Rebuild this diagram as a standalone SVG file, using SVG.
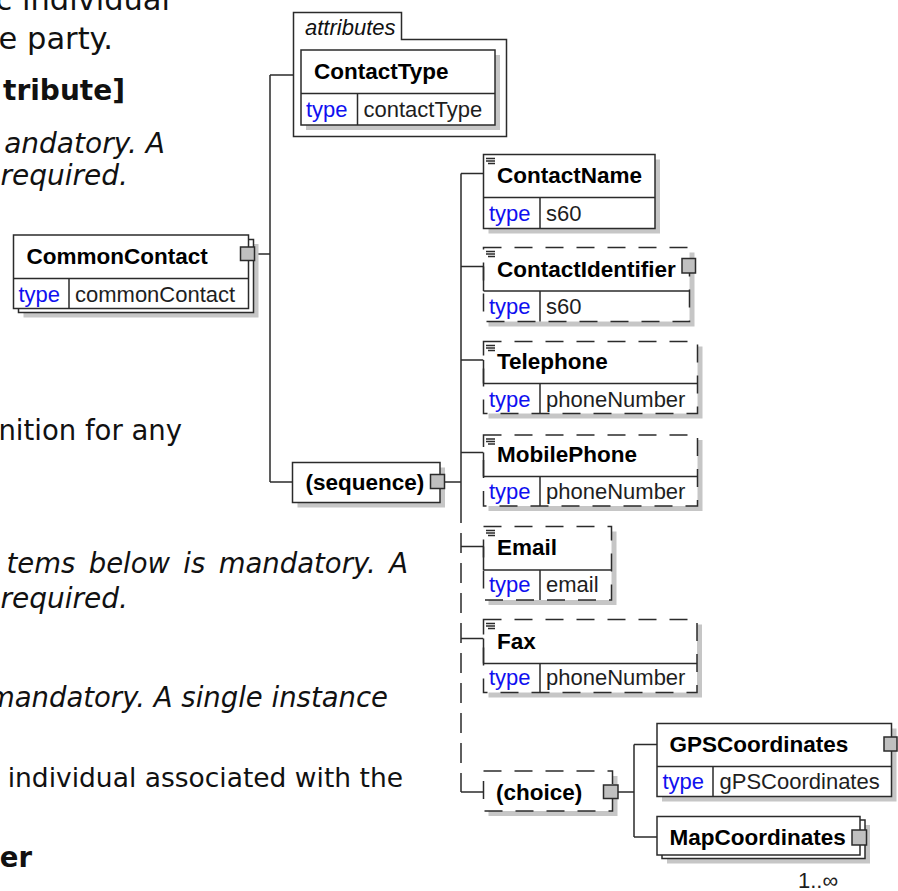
<svg xmlns="http://www.w3.org/2000/svg" width="898" height="891" viewBox="0 0 898 891">
<style>
.box{fill:#fff;stroke:#2b2b2b;stroke-width:1.5}
.dbox{fill:#fff;stroke:#2b2b2b;stroke-width:1.5;stroke-dasharray:18 13}
.sh{fill:#c6c6c6}
.ln{fill:none;stroke:#2b2b2b;stroke-width:1.5}
.dl{fill:none;stroke:#2b2b2b;stroke-width:1.5;stroke-dasharray:20 10}
.hd{fill:#c0c0c0;stroke:#2b2b2b;stroke-width:1.5}
.ic{stroke:#2b2b2b;stroke-width:1.3}
.nm{font-family:"Liberation Sans",Arial,sans-serif;font-weight:bold;font-size:22.5px;fill:#000}
.ty{font-family:"Liberation Sans",Arial,sans-serif;font-size:22px;fill:#1010f0}
.vl{font-family:"Liberation Sans",Arial,sans-serif;font-size:22px;fill:#1e1e1e}
.it{font-family:"Liberation Sans",Arial,sans-serif;font-size:22px;font-style:italic;fill:#111}
.doc{font-family:"DejaVu Sans",Verdana,sans-serif;font-size:27.5px;fill:#111;text-anchor:end}
.b{font-weight:bold}
.i{font-style:italic}
</style>
<rect width="898" height="891" fill="#fff"/>

<g id="doc-text">
<text class="doc" x="170" y="10" style="font-size:30.5px">c individual</text>
<text class="doc" x="113" y="49" style="font-size:30.5px">e party.</text>
<text class="doc b" x="125" y="100" style="font-size:28px">tribute]</text>
<text class="doc i" x="165" y="153" style="font-size:28px">andatory. A</text>
<text class="doc i" x="128" y="185" style="font-size:28px">required.</text>
<text class="doc" x="182" y="440">nition for any</text>
<text class="doc i" x="408" y="573" word-spacing="4.6">tems below is mandatory. A</text>
<text class="doc i" x="128" y="608" style="font-size:28px">required.</text>
<text class="doc i" x="388" y="707">mandatory. A single instance</text>
<text class="doc" x="403" y="787" style="font-size:26.5px">individual associated with the</text>
<text class="doc b" x="32" y="867">ier</text>
</g>

<g id="connectors">
<path class="ln" d="M270,75 H293.5 M270,75 V482 M254.5,254 H270 M270,482 H292.5"/>
<path class="ln" d="M445,482 H461 M461,173.5 V503"/>
<path class="dl" d="M461,503 V792"/>
<path class="ln" d="M461,792 H483.5"/>
<path class="ln" d="M461,173.5 H483.5 M461,266.5 H483.5 M461,360 H483.5 M461,452.5 H483.5 M461,546.5 H483.5 M461,638.5 H483.5"/>
<path class="ln" d="M618,792 H634 M634,744.5 V837 M634,744.5 H657 M634,837 H657"/>
</g>

<g id="attributes">
<path class="box" d="M293.5,12.5 H401.5 V39.5 H506.5 V136.5 H293.5 Z"/>
<text class="it" x="305" y="35">attributes</text>
</g>

<g id="ContactType">
<rect class="sh" x="306" y="55" width="194" height="75"/>
<rect class="box" x="301" y="50" width="194" height="75"/>
<path class="ln" d="M301,93.5 H495 M357.5,93.5 V125"/>
<text class="nm" x="314" y="79">ContactType</text>
<text class="ty" x="306" y="117">type</text>
<text class="vl" x="363.5" y="117">contactType</text>
</g>

<g id="CommonContact">
<rect class="sh" x="23.5" y="244" width="235" height="73.5"/>
<rect class="box" x="18.5" y="239.5" width="235" height="73"/>
<rect class="box" x="13.5" y="235" width="235" height="73.5"/>
<path class="ln" d="M13.5,278.5 H248.5 M69,278.5 V308.5"/>
<text class="nm" x="26.5" y="263.5">CommonContact</text>
<text class="ty" x="18.5" y="301.5">type</text>
<text class="vl" x="75" y="301.5">commonContact</text>
<rect class="hd" x="240.5" y="247" width="14" height="13.5"/>
</g>

<g id="sequence">
<rect class="sh" x="297.5" y="467.5" width="147.5" height="40"/>
<rect class="box" x="292.5" y="462.5" width="147.5" height="40"/>
<text class="nm" x="305.5" y="490">(sequence)</text>
<rect class="hd" x="430.5" y="474.5" width="14" height="14"/>
</g>

<g id="ContactName">
<rect class="sh" x="488.5" y="159.5" width="171.5" height="74"/>
<rect class="box" x="483.5" y="154.5" width="171.5" height="74"/>
<path class="ln" d="M483.5,197.5 H655 M540,197.5 V228.5"/>
<path class="ic" d="M486,158.5 H495 M486,161 H495 M488,163.5 H495"/>
<text class="nm" x="497" y="183">ContactName</text>
<text class="ty" x="489" y="220.5">type</text>
<text class="vl" x="546" y="220.5">s60</text>
</g>

<g id="ContactIdentifier">
<rect class="sh" x="488.5" y="252.5" width="206" height="74"/>
<rect class="dbox" x="483.5" y="247.5" width="206" height="74"/>
<path class="ln" d="M483.5,291 H689.5 M540,291 V321.5 M483.5,266.5 V291"/>
<path class="ic" d="M486,251.5 H495 M486,254 H495 M488,256.5 H495"/>
<text class="nm" x="497" y="276.5">ContactIdentifier</text>
<text class="ty" x="489" y="313.5">type</text>
<text class="vl" x="546" y="313.5">s60</text>
<rect class="hd" x="682" y="258.5" width="13.5" height="14.5"/>
</g>

<g id="Telephone">
<rect class="sh" x="488.5" y="346.5" width="214" height="72"/>
<rect class="dbox" x="483.5" y="341.5" width="214" height="72"/>
<path class="ln" d="M483.5,383.5 H697.5 M540,383.5 V413.5 M483.5,360 V383.5"/>
<path class="ic" d="M486,345.5 H495 M486,348 H495 M488,350.5 H495"/>
<text class="nm" x="497" y="368.5">Telephone</text>
<text class="ty" x="489" y="406.5">type</text>
<text class="vl" x="546" y="406.5">phoneNumber</text>
</g>

<g id="MobilePhone">
<rect class="sh" x="488.5" y="440" width="214" height="71"/>
<rect class="dbox" x="483.5" y="435" width="214" height="71"/>
<path class="ln" d="M483.5,476.5 H697.5 M540,476.5 V506 M483.5,452.5 V476.5"/>
<path class="ic" d="M486,439 H495 M486,441.5 H495 M488,444 H495"/>
<text class="nm" x="497" y="461.5">MobilePhone</text>
<text class="ty" x="489" y="498.5">type</text>
<text class="vl" x="546" y="498.5">phoneNumber</text>
</g>

<g id="Email">
<rect class="sh" x="488.5" y="531.5" width="128" height="73.5"/>
<rect class="dbox" x="483.5" y="526.5" width="128" height="73.5"/>
<path class="ln" d="M483.5,570 H611.5 M540,570 V600 M483.5,546.5 V570"/>
<path class="ic" d="M486,530.5 H495 M486,533 H495 M488,535.5 H495"/>
<text class="nm" x="497" y="555">Email</text>
<text class="ty" x="489" y="592">type</text>
<text class="vl" x="546" y="592">email</text>
</g>

<g id="Fax">
<rect class="sh" x="488.5" y="624.5" width="213.5" height="73"/>
<rect class="dbox" x="483.5" y="619.5" width="213.5" height="73"/>
<path class="ln" d="M483.5,663.5 H697 M540,663.5 V692.5 M483.5,638.5 V663.5"/>
<path class="ic" d="M486,623.5 H495 M486,626 H495 M488,628.5 H495"/>
<text class="nm" x="497" y="648.5">Fax</text>
<text class="ty" x="489" y="685">type</text>
<text class="vl" x="546" y="685">phoneNumber</text>
</g>

<g id="choice">
<rect class="sh" x="488.5" y="776" width="129" height="40"/>
<rect class="dbox" x="483.5" y="771" width="129" height="40"/>
<text class="nm" x="496" y="800">(choice)</text>
<rect class="hd" x="603.5" y="785" width="14.5" height="13.5"/>
</g>

<g id="GPSCoordinates">
<rect class="sh" x="662" y="728.5" width="234.5" height="73"/>
<rect class="box" x="657" y="723.5" width="234.5" height="73"/>
<path class="ln" d="M657,766.5 H891.5 M713,766.5 V796.5"/>
<text class="nm" x="669.5" y="752">GPSCoordinates</text>
<text class="ty" x="662.5" y="788.5">type</text>
<text class="vl" x="719.5" y="788.5">gPSCoordinates</text>
<rect class="hd" x="884" y="737" width="13" height="14"/>
</g>

<g id="MapCoordinates">
<rect class="sh" x="667" y="825" width="203" height="38.5"/>
<rect class="box" x="662" y="820" width="203" height="38.5"/>
<rect class="box" x="657" y="816.5" width="203" height="38.5"/>
<text class="nm" x="669.5" y="845">MapCoordinates</text>
<rect class="hd" x="852" y="830" width="14.5" height="15"/>
<text class="vl" x="798" y="888" style="font-size:22px">1..∞</text>
</g>
</svg>
